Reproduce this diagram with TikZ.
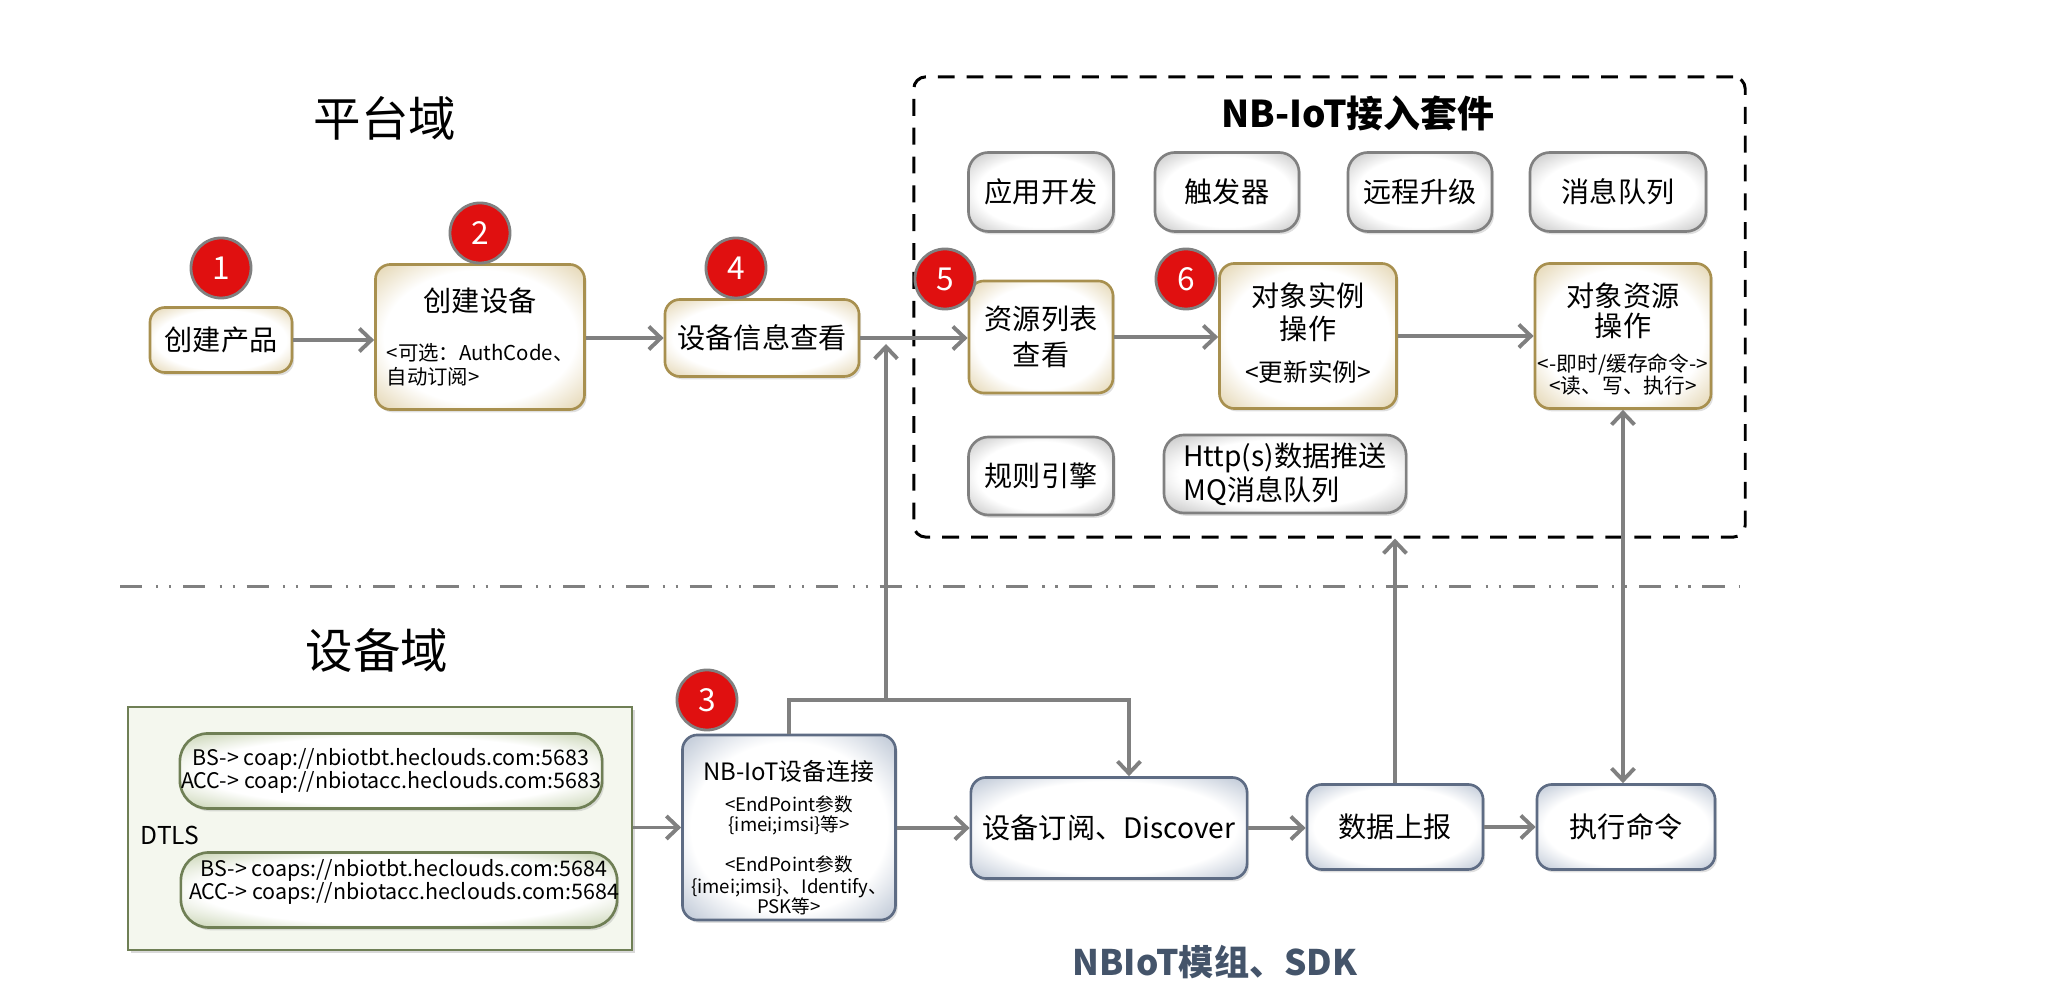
\documentclass[tikz,border=0pt]{standalone}
\usepackage{fontspec}
\setmainfont{Noto Sans CJK SC}
\usetikzlibrary{arrows.meta,shadows}
\definecolor{beigeC}{HTML}{E8DCBE}
\definecolor{beigeB}{HTML}{A8904F}
\definecolor{greyC}{HTML}{CCCCCC}
\definecolor{greyB}{HTML}{808080}
\definecolor{blueC}{HTML}{C8D0DC}
\definecolor{blueB}{HTML}{5E6C84}
\definecolor{greenF}{HTML}{F4F7EE}
\definecolor{greenC}{HTML}{D0DABE}
\definecolor{greenB}{HTML}{6F7F55}
\definecolor{connC}{HTML}{808080}
\definecolor{badgeR}{HTML}{E01010}
\definecolor{sdkC}{HTML}{44546A}
\pgfdeclareradialshading{beigeglow}{\pgfpoint{0bp}{0bp}}{color(0bp)=(white); color(23bp)=(white); color(33bp)=(beigeC); color(80bp)=(beigeC)}
\pgfdeclareradialshading{greyglow}{\pgfpoint{0bp}{0bp}}{color(0bp)=(white); color(22bp)=(white); color(33bp)=(greyC); color(80bp)=(greyC)}
\pgfdeclareradialshading{blueglow}{\pgfpoint{0bp}{0bp}}{color(0bp)=(white); color(23bp)=(white); color(33bp)=(blueC); color(80bp)=(blueC)}
\pgfdeclareradialshading{greenglow}{\pgfpoint{0bp}{0bp}}{color(0bp)=(white); color(23bp)=(white); color(33bp)=(greenC); color(80bp)=(greenC)}
\newcommand{\tightlines}{\lineskiplimit=-10pt\relax\lineskip=0pt\relax}
\tikzset{
  box/.style={rounded corners=0.15cm, line width=0.75pt, inner sep=0pt, shade,
    align=center, font=\fontsize{8}{9.4}\selectfont,
    drop shadow={shadow xshift=0.6pt, shadow yshift=-0.8pt, opacity=0.25}},
  beigebox/.style={box, draw=beigeB, shading=beigeglow},
  greybox/.style={box, draw=greyB, shading=greyglow, rounded corners=0.2cm},
  bluebox/.style={box, draw=blueB, shading=blueglow},
  pillbox/.style={box, draw=greenB, shading=greenglow, rounded corners=0.28cm,
    font=\fontsize{6.1}{6.5}\selectfont},
  dtlsbox/.style={draw=greenB, fill=greenF, line width=0.75pt, inner sep=0pt,
    drop shadow={shadow xshift=0.8pt, shadow yshift=-0.8pt, opacity=0.3}},
  kitbox/.style={draw=black, line width=0.85pt, rounded corners=0.12cm,
    dash pattern=on 4.8pt off 3.4pt, inner sep=0pt},
  badge/.style={circle, draw=greyB, line width=0.8pt, fill=badgeR, text=white,
    minimum size=0.6cm, inner sep=0pt, font=\fontsize{9}{9}\selectfont},
  txt/.style={inner sep=0pt, font=\fontsize{8}{9.4}\selectfont},
  conn/.style={draw=connC, line width=1.1pt, -{Straight Barb[length=3.4pt,width=6.5pt]}},
  conn2/.style={draw=connC, line width=1.1pt, {Straight Barb[length=3.4pt,width=6.5pt]}-{Straight Barb[length=3.4pt,width=6.5pt]}},
  divider/.style={draw=connC, line width=0.85pt,
    dash pattern=on 6.3pt off 4pt on 0.6pt off 3.1pt on 0.6pt off 3.4pt}
}
\begin{document}
\begin{tikzpicture}[x=0.01cm, y=-0.01cm]
\useasboundingbox (0,0) rectangle (2071,1001);

% headings
\node[txt, font=\fontsize{13.5}{14}\selectfont] (hplat) at (385,118) {平台域};
\node[txt, font=\fontsize{13.5}{14}\selectfont] (hdev) at (377,650) {设备域};

% divider
\draw[divider] (120,587) -- (1740,587);

% kit box
\node[kitbox, minimum width=8.31cm, minimum height=4.60cm] (kit) at (1329.5,307) {};
\node[txt, font=\bfseries\fontsize{10.5}{11}\selectfont] (kittitle) at (1358,113) {NB-IoT接入套件};

% platform flow
\node[beigebox, minimum width=1.42cm, minimum height=0.65cm] (p1) at (221,340) {创建产品};
\node[beigebox, minimum width=2.09cm, minimum height=1.45cm] (p2) at (480,337) {};
\node[txt] (p2t) at (480,301) {创建设备};
\node[txt, font=\fontsize{5.8}{6.8}\selectfont, align=left, anchor=west] (p2s) at (386,365) {<可选：AuthCode、\\自动订阅>};
\node[beigebox, minimum width=1.94cm, minimum height=0.77cm] (p4) at (762,338) {设备信息查看};
\node[beigebox, minimum width=1.44cm, minimum height=1.12cm, font=\fontsize{8}{10.2}\selectfont] (p5) at (1041,337) {资源列表\\查看};
\node[beigebox, minimum width=1.77cm, minimum height=1.45cm] (p6) at (1308,336) {};
\node[txt, font=\fontsize{8}{9.4}\selectfont, align=center] (p6t) at (1308,333) {对象实例\\操作\\[2.6pt]\fontsize{7}{8}\selectfont <更新实例>};
\node[beigebox, minimum width=1.76cm, minimum height=1.45cm] (res) at (1623,336) {};
\node[txt, font=\fontsize{8}{8.8}\selectfont\tightlines, align=center] (rest) at (1623,339) {对象资源\\操作\\[0.9pt]\fontsize{5.9}{6}\selectfont <-即时/缓存命令->\\[-2.3pt]\fontsize{5.9}{6}\selectfont <读、写、执行>};

% grey boxes
\node[greybox, minimum width=1.45cm, minimum height=0.79cm] (g1) at (1041,192) {应用开发};
\node[greybox, minimum width=1.44cm, minimum height=0.79cm] (g2) at (1227,192) {触发器};
\node[greybox, minimum width=1.44cm, minimum height=0.79cm] (g3) at (1420,192) {远程升级};
\node[greybox, minimum width=1.76cm, minimum height=0.79cm] (g4) at (1618,192) {消息队列};
\node[greybox, minimum width=1.45cm, minimum height=0.78cm] (g5) at (1041,476) {规则引擎};
\node[greybox, minimum width=2.42cm, minimum height=0.78cm, align=left, font=\fontsize{8}{9.7}\selectfont] (g6) at (1285,474) {Http(s)数据推送\\MQ消息队列};

% badges
\node[badge] (b1) at (221,268) {1};
\node[badge] (b2) at (480,233) {2};
\node[badge] (b4) at (736,268) {4};
\node[badge] (b5) at (945,279) {5};
\node[badge] (b6) at (1186,279) {6};

% device domain
\node[dtlsbox, minimum width=5.04cm, minimum height=2.43cm] (dtls) at (380,828.5) {};
\node[txt, anchor=west, font=\fontsize{7}{8}\selectfont] (dtlst) at (140,835) {DTLS};
\node[pillbox, minimum width=4.22cm, minimum height=0.75cm] (pill1) at (391,771) {BS-> coap://nbiotbt.heclouds.com:5683\\ACC-> coap://nbiotacc.heclouds.com:5683};
\node[pillbox, minimum width=4.36cm, minimum height=0.75cm] (pill2) at (399,890) {};
\node[txt, align=center, font=\fontsize{6.1}{6.5}\selectfont] (pill2t) at (404,882) {BS-> coaps://nbiotbt.heclouds.com:5684\\ACC-> coaps://nbiotacc.heclouds.com:5684};

\node[bluebox, minimum width=2.13cm, minimum height=1.85cm] (nb) at (789,827.5) {};
\node[txt, align=center, font=\fontsize{5.3}{5.7}\selectfont\tightlines] (nbt) at (789,838) {\fontsize{6.8}{7}\selectfont NB-IoT设备连接\\[3.1pt]<EndPoint参数\\\{imei;imsi\}等>\\[5.7pt]<EndPoint参数\\[0.6pt]\{imei;imsi\}、Identify、\\PSK等>};
\node[badge] (b3) at (707,700) {3};

\node[bluebox, minimum width=2.76cm, minimum height=1.01cm] (sub) at (1109,828) {设备订阅、Discover};
\node[bluebox, minimum width=1.76cm, minimum height=0.85cm] (dr) at (1395,827) {数据上报};
\node[bluebox, minimum width=1.78cm, minimum height=0.85cm] (cmd) at (1626,827) {执行命令};

\node[txt, font=\bfseries\fontsize{10}{11}\selectfont, text=sdkC] (sdk) at (1215,962) {NBIoT模组、SDK};

% connectors
\coordinate (j1) at (886,700);
\coordinate (j2) at (1129,700);
\coordinate (tipA) at (886,344);
\draw[conn] (p1.east) -- (p1.east -| p2.west);
\draw[conn] (p2.east |- p4.west) -- (p4.west);
\draw[conn] (p4.east) -- (p4.east -| p5.west);
\draw[conn] (p5.east) -- (p5.east -| p6.west);
\draw[conn] (p6.east) -- (p6.east -| res.west);
\draw[conn] (dtls.east |- nb.west) -- (nb.west);
\draw[conn] (nb.east |- sub.west) -- (sub.west);
\draw[conn] (sub.east) -- (sub.east -| dr.west);
\draw[conn] (dr.east) -- (dr.east -| cmd.west);
\draw[conn] (nb.north) |- (j2) -- (j2 |- sub.north);
\draw[conn] (j1) -- (tipA);
\draw[conn] (dr.north) -- (dr.north |- kit.south);
\draw[conn2] (res.south) -- (res.south |- cmd.north);
\end{tikzpicture}
\end{document}
